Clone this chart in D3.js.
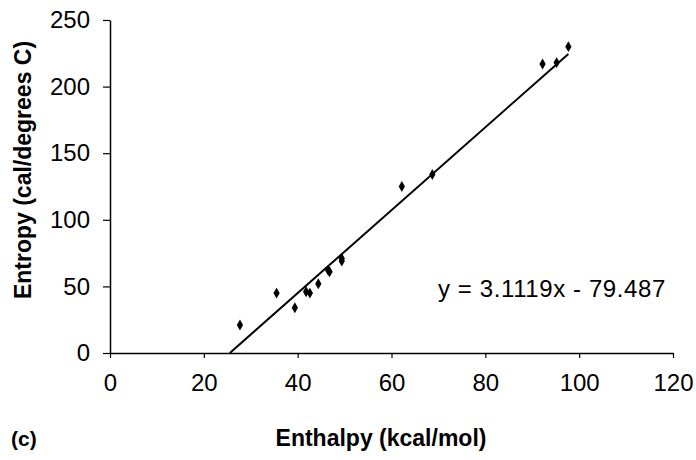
<!DOCTYPE html>
<html>
<head>
<meta charset="utf-8">
<script src="https://cdn.jsdelivr.net/npm/d3@7"></script>
<style>
  body { margin: 0; background: #fff; }
  svg text { font-family: Arial, "Liberation Sans", sans-serif; fill: #000; }
</style>
</head>
<body>
<svg id="chart" width="696" height="460"></svg>
<script>
// enthalpy (kcal/mol) vs entropy (cal/degrees C)
const enthalpy = [27.7, 35.5, 39.4, 41.8, 42.6, 44.4, 46.5, 46.8, 49.4, 49.4, 62.2, 68.7, 92.2, 95.2, 97.7];
const entropy = [21, 45, 34, 46, 45, 52, 62, 61, 71, 69, 125, 134, 217, 218, 230];
const xTicks = [0, 20, 40, 60, 80, 100, 120];
const yTicks = [0, 50, 100, 150, 200, 250];
const slope = 3.1119;
const intercept = -79.487;

const svg = d3.select("#chart");
const x = d3.scaleLinear().domain([0, 120]).range([110, 673]);
const y = d3.scaleLinear().domain([0, 250]).range([353, 20]);

const xAxis = svg.append("g")
  .attr("transform", `translate(0,${y(0)})`)
  .call(d3.axisBottom(x).tickValues(xTicks).tickSize(5).tickSizeOuter(0).tickPadding(16));
const yAxis = svg.append("g")
  .attr("transform", `translate(${x(0)},0)`)
  .call(d3.axisLeft(y).tickValues(yTicks).tickSize(7).tickSizeOuter(0).tickPadding(13));

[xAxis, yAxis].forEach((g) => {
  g.select(".domain").attr("stroke", "#000").attr("stroke-width", 1.5);
  g.selectAll(".tick line").attr("stroke", "#000").attr("stroke-width", 1.2);
  g.selectAll(".tick text").attr("font-size", 24).attr("font-family", "Arial, 'Liberation Sans', sans-serif");
});

// trend line from x-intercept to the last point
const x0 = -intercept / slope;
const x1 = d3.max(enthalpy);
svg.append("line")
  .attr("x1", x(x0)).attr("y1", y(0))
  .attr("x2", x(x1)).attr("y2", y(slope * x1 + intercept))
  .attr("stroke", "#000")
  .attr("stroke-width", 2);

svg.append("g")
  .selectAll("path")
  .data(enthalpy.map((d, i) => [d, entropy[i]]))
  .join("path")
  .attr("d", d3.symbol(d3.symbolDiamond, 34))
  .attr("transform", (d) => `translate(${x(d[0])},${y(d[1])})`)
  .attr("fill", "#000");

svg.append("text")
  .attr("x", 438).attr("y", 297)
  .attr("font-size", 24)
  .attr("letter-spacing", 0.6)
  .text("y = 3.1119x - 79.487");

svg.append("text")
  .attr("x", 381).attr("y", 446)
  .attr("text-anchor", "middle")
  .attr("font-size", 23)
  .attr("font-weight", "bold")
  .text("Enthalpy (kcal/mol)");

svg.append("text")
  .attr("transform", "translate(31,170) rotate(-90)")
  .attr("text-anchor", "middle")
  .attr("font-size", 23)
  .attr("font-weight", "bold")
  .text("Entropy (cal/degrees C)");

svg.append("text")
  .attr("x", 11).attr("y", 446)
  .attr("font-size", 21)
  .attr("font-weight", "bold")
  .text("(c)");
</script>
</body>
</html>
